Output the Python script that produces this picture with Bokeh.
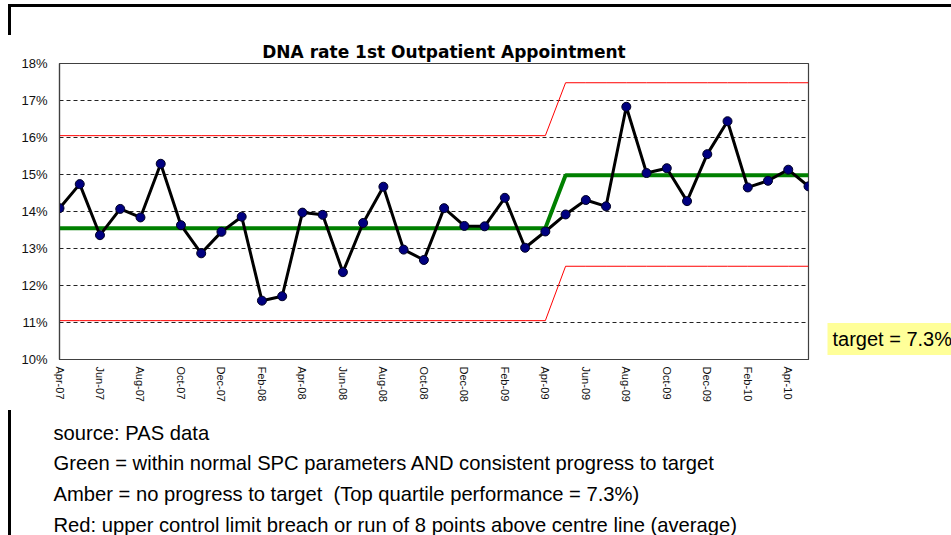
import math
from bokeh.plotting import figure
from bokeh.models import Range1d, FixedTicker, PrintfTickFormatter, Label
from bokeh.embed import file_html
from bokeh.resources import INLINE

# ---------------- data ----------------
months = ["Apr-07", "May-07", "Jun-07", "Jul-07", "Aug-07", "Sep-07", "Oct-07", "Nov-07",
          "Dec-07", "Jan-08", "Feb-08", "Mar-08", "Apr-08", "May-08", "Jun-08", "Jul-08",
          "Aug-08", "Sep-08", "Oct-08", "Nov-08", "Dec-08", "Jan-09", "Feb-09", "Mar-09",
          "Apr-09", "May-09", "Jun-09", "Jul-09", "Aug-09", "Sep-09", "Oct-09", "Nov-09",
          "Dec-09", "Jan-10", "Feb-10", "Mar-10", "Apr-10", "May-10"]
dna_rate = [14.09, 14.74, 13.36, 14.07, 13.84, 15.29, 13.63, 12.87, 13.45, 13.86,
            11.59, 11.71, 13.97, 13.91, 12.36, 13.69, 14.67, 12.97, 12.69, 14.09,
            13.61, 13.60, 14.37, 13.02, 13.46, 13.92, 14.31, 14.14, 16.83, 15.04,
            15.17, 14.28, 15.55, 16.44, 14.65, 14.83, 15.13, 14.68]
centre_line = [13.55, 13.55, 13.55, 13.55, 13.55, 13.55, 13.55, 13.55, 13.55, 13.55,
               13.55, 13.55, 13.55, 13.55, 13.55, 13.55, 13.55, 13.55, 13.55, 13.55,
               13.55, 13.55, 13.55, 13.55, 13.55, 14.98, 14.98, 14.98, 14.98, 14.98,
               14.98, 14.98, 14.98, 14.98, 14.98, 14.98, 14.98, 14.98]
upper_limit = [16.05, 16.05, 16.05, 16.05, 16.05, 16.05, 16.05, 16.05, 16.05, 16.05,
               16.05, 16.05, 16.05, 16.05, 16.05, 16.05, 16.05, 16.05, 16.05, 16.05,
               16.05, 16.05, 16.05, 16.05, 16.05, 17.48, 17.48, 17.48, 17.48, 17.48,
               17.48, 17.48, 17.48, 17.48, 17.48, 17.48, 17.48, 17.48]
lower_limit = [11.05, 11.05, 11.05, 11.05, 11.05, 11.05, 11.05, 11.05, 11.05, 11.05,
               11.05, 11.05, 11.05, 11.05, 11.05, 11.05, 11.05, 11.05, 11.05, 11.05,
               11.05, 11.05, 11.05, 11.05, 11.05, 12.52, 12.52, 12.52, 12.52, 12.52,
               12.52, 12.52, 12.52, 12.52, 12.52, 12.52, 12.52, 12.52]
y_ticks = [10, 11, 12, 13, 14, 15, 16, 17, 18]
x_tick_index = [0, 2, 4, 6, 8, 10, 12, 14, 16, 18, 20, 22, 24, 26, 28, 30, 32, 34, 36]

title_text = "DNA rate 1st Outpatient Appointment"
target_text = "target = 7.3%"
notes = ["source: PAS data",
         "Green = within normal SPC parameters AND consistent progress to target",
         "Amber = no progress to target \u00a0(Top quartile performance = 7.3%)",
         "Red: upper control limit breach or run of 8 points above centre line (average)"]

# ---------------- layout ----------------
W, H = 951, 535
FL, FT, FR, FB = 59, 63, 808, 359   # frame in page pixels
XMIN, XMAX = 0, len(months) - 1
YMIN, YMAX = y_ticks[0], y_ticks[-1]


def dx(px):
    return XMIN + (px - FL) / (FR - FL) * (XMAX - XMIN)


def dy(py):
    return YMAX - (py - FT) / (FB - FT) * (YMAX - YMIN)


p = figure(width=W, height=H,
           x_range=Range1d(XMIN, XMAX), y_range=Range1d(YMIN, YMAX),
           output_backend="svg", toolbar_location=None,
           min_border_left=FL, min_border_right=W - FR,
           min_border_top=FT, min_border_bottom=H - FB)
p.background_fill_color = "white"
p.border_fill_color = None
p.outline_line_color = "#404040"
p.outline_line_width = 1.2

# slide bracket lines (page decoration behind the transparent canvas border)
p.styles = {
    "background-color": "white",
    "background-image": "linear-gradient(black, black), linear-gradient(black, black), "
                        "linear-gradient(black, black)",
    "background-size": "943px 3px, 3px 31px, 3px 125px",
    "background-position": "8px 4px, 8px 4px, 8px 410px",
    "background-repeat": "no-repeat",
}

x = list(range(len(months)))

# grid
p.xgrid.visible = False
p.ygrid.ticker = FixedTicker(ticks=y_ticks)
p.ygrid.grid_line_color = "#222222"
p.ygrid.grid_line_dash = "4 3"
p.ygrid.grid_line_width = 1

# axes
p.yaxis.ticker = FixedTicker(ticks=y_ticks)
p.yaxis.formatter = PrintfTickFormatter(format="%d%%")
p.xaxis.ticker = FixedTicker(ticks=x_tick_index)
p.xaxis.major_label_overrides = {i: months[i] for i in x_tick_index}
p.xaxis.major_label_orientation = -math.pi / 2
for ax in (p.xaxis, p.yaxis):
    ax.axis_line_color = "#404040"
    ax.axis_line_width = 1.2
    ax.major_tick_out = 0
    ax.major_tick_in = 0
    ax.minor_tick_out = 0
    ax.minor_tick_in = 0
    ax.major_label_text_font = "Liberation Sans"
    ax.major_label_text_color = "#111111"
p.yaxis.major_label_text_font_size = "13px"
p.yaxis.major_label_standoff = 12
p.xaxis.major_label_text_font_size = "11px"
p.xaxis.major_label_standoff = 7

# series
p.line(x, upper_limit, line_color="#FF0000", line_width=1)
p.line(x, lower_limit, line_color="#FF0000", line_width=1)
p.line(x, centre_line, line_color="#008000", line_width=4)
p.line(x, dna_rate, line_color="black", line_width=3)
p.scatter(x, dna_rate, size=9, fill_color="#000080", line_color="#000022", line_width=1)

# title
p.add_layout(Label(x=dx(443.5), y=dy(51), text=title_text,
                   text_align="center", text_baseline="middle",
                   text_font="DejaVu Sans", text_font_style="bold",
                   text_font_size="17px", text_color="black"), "above")

# target box
p.add_layout(Label(x=dx(827), y=dy(338.5), text=target_text,
                   text_align="left", text_baseline="middle",
                   text_font="Liberation Sans", text_font_size="20px",
                   text_color="black", background_fill_color="#FFFF99",
                   padding=(5, 10, 5, 5)), "right")

# notes
for i, t in enumerate(notes):
    p.add_layout(Label(x=dx(53), y=dy(432 + 30.7 * i), text=t,
                       text_align="left", text_baseline="alphabetic",
                       text_font="Liberation Sans", text_font_size="20.2px",
                       text_color="black"), "below")

open("out.html", "w").write(file_html(p, INLINE))
